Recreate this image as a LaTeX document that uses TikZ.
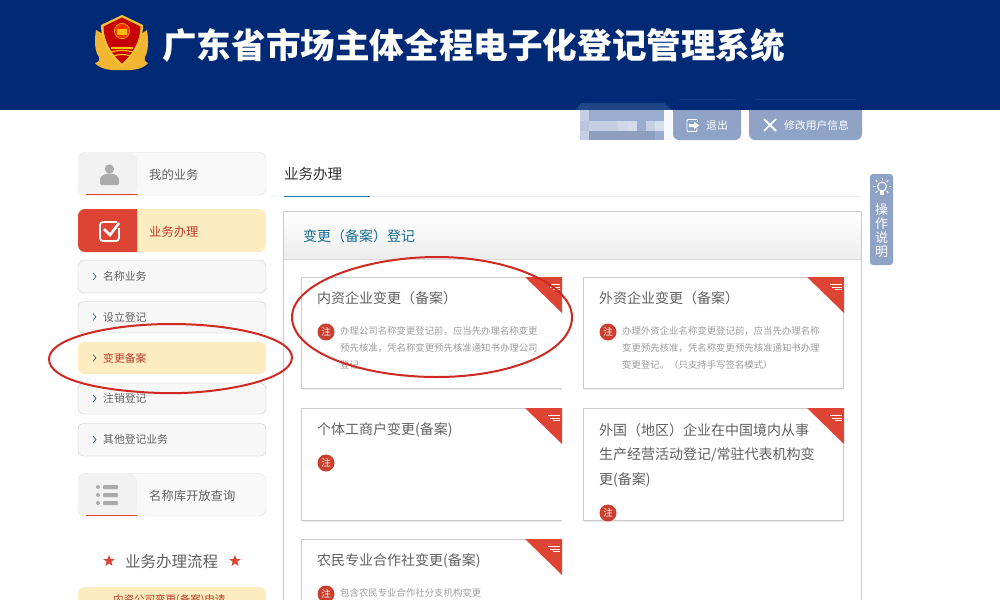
\documentclass[tikz,border=0pt]{standalone}
\usepackage{fontspec}
\setmainfont{Noto Sans CJK SC}
\usepackage{xcolor}
\usetikzlibrary{shapes.geometric}
\definecolor{navy}{HTML}{012A76}
\definecolor{btnblue}{HTML}{8FA3C6}
\definecolor{redmark}{HTML}{DD4433}
\definecolor{cream}{HTML}{FDECC0}
\definecolor{inkred}{HTML}{CE2A22}
\definecolor{teal}{HTML}{1A7FA8}
\definecolor{blura}{HTML}{9AACCF}
\definecolor{blurb}{HTML}{C6D0E4}
\definecolor{wheat}{HTML}{F2B632}
\tikzset{
	menubox/.style={draw=black!12,fill=black!2.5,rounded corners=7pt},
	subbox/.style={draw=black!22,fill=black!3,rounded corners=6pt},
	cardbox/.style={draw=black!20},
	txt/.style={anchor=west,inner sep=0pt,text=black!62},
	cardtitle/.style={txt,font=\fontsize{14}{14}\selectfont},
	cardnote/.style={txt,text=black!38,font=\fontsize{9.4}{9.4}\selectfont},
	subtext/.style={txt,font=\fontsize{10.8}{10.8}\selectfont},
	menutext/.style={txt,font=\fontsize{12.3}{12.3}\selectfont},
	notemark/.style={circle,fill=redmark!92!black,text=white,inner sep=0pt,minimum size=17pt,font=\fontsize{9.5}{9.5}\selectfont},
	btntext/.style={txt,text=white,font=\fontsize{10.8}{10.8}\selectfont},
	ink/.style={inkred,line width=2pt},
}
% red corner of a card, upper right point given
\newcommand{\cardcorner}[2]{
	\fill[redmark] (#1-37,#2) -- (#1,#2) -- (#1,#2+36) -- cycle;
	\draw[white,line width=0.9pt] (#1-14,#2+7.5) -- (#1-2,#2+7.5);
	\draw[white,line width=0.9pt] (#1-12,#2+10) -- (#1-2,#2+10);
	\draw[white,line width=0.9pt] (#1-9,#2+12.5) -- (#1-2,#2+12.5);
}
\begin{document}
\begin{tikzpicture}[x=1pt,y=-1pt]
	\useasboundingbox (0,0) rectangle (1000,599);
	\clip (0,0) rectangle (1000,599);
	\fill[white] (0,0) rectangle (1000,599);
	% header
	\fill[navy] (0,0) rectangle (1000,110);
	% emblem
	\fill[wheat] (122,70) .. controls (108,71) and (99,68) .. (95,63) .. controls (99,62) and (100,60) .. (99,57) .. controls (95,52) and (94,42) .. (96,30) -- (103,34) -- (141,34) -- (147,30) .. controls (149,42) and (148,52) .. (145,57) .. controls (144,60) and (145,62) .. (148,63) .. controls (144,68) and (135,71) .. (122,70) -- cycle;
	\fill[yellow!20!wheat] (122,15) -- (143,25) .. controls (143,42) and (134,58) .. (122,67) .. controls (110,58) and (101,42) .. (101,25) -- cycle;
	\fill[red!78!black] (122,17.5) -- (140.5,26.5) .. controls (140.5,41) and (132,55) .. (122,63.5) .. controls (112,55) and (103.5,41) .. (103.5,26.5) -- cycle;
	\draw[orange!55!yellow,line width=0.9pt] (122,31) circle (7.5pt);
	\fill[orange!40!red] (122,31) circle (7pt);
	\fill[yellow!50!orange] (117,29) rectangle (127,35);
	\fill[yellow!60!orange] (111,47) rectangle (133,49);
	\draw[orange!50!yellow,line width=1.1pt] (111,52) .. controls (117,50) and (127,50) .. (133,52);
	\draw[yellow!60!orange,line width=1.1pt] (114,56) .. controls (118,54) and (126,54) .. (130,56);
	\node[anchor=west,inner sep=0pt,text=white,font=\fontsize{34.6}{34.6}\selectfont\bfseries] (sysname) at (162,45) {广东省市场主体全程电子化登记管理系统};
	% blurred user name
	\fill[navy!78!btnblue] (576,110) -- (581,103) -- (664,103) -- (672,110) -- cycle;
	\fill[white!94!btnblue] (664,110) rectangle (672,140);
	\fill[blura] (580,110) rectangle (664,140);
	\fill[blurb] (580,110) rectangle (589,121);
	\fill[blura!70!white] (580,121) rectangle (589,131);
	\fill[blurb] (580,131) rectangle (589,140);
	\fill[blura!92!black] (589,131) rectangle (655,140);
	\foreach \xa/\xb/\tint in {589/618/100,618/628/85,628/637/75,646/655/100,655/664/70}
		\fill[blurb!\tint!white] (\xa,121) rectangle (\xb,131);
	% buttons
	\fill[btnblue,rounded corners=6pt] (673,100) rectangle (741,140);
	\fill[btnblue,rounded corners=6pt] (749,100) rectangle (862,140);
	\fill[navy] (672,100) rectangle (880,110);
	\draw[white,line width=0.9pt,rounded corners=1pt] (697,119.5) -- (687,119.5) -- (687,131.5) -- (697,131.5) -- (697,128);
	\draw[white,line width=0.9pt] (697,119.5) -- (697,122);
	\fill[white] (689,124) -- (694,124) -- (694,121.5) -- (699,125.5) -- (694,129.5) -- (694,127) -- (689,127) -- cycle;
	\node[btntext] (logout) at (706,125.5) {退出};
	\draw[white,line width=2pt] (764,119) -- (776,131);
	\draw[white,line width=1.6pt] (776,119) -- (764,131);
	\node[btntext] (profile) at (784,125.5) {修改用户信息};
	% side tab
	\fill[btnblue,rounded corners=3pt] (870,174) rectangle (893,265);
	\draw[white,line width=1pt] (882,186.5) circle (4.5pt);
	\fill[white] (880,191) rectangle (884,195);
	\foreach \ang in {0,45,135,180,225,315,90}
		\draw[white,line width=0.8pt] (882,186.5) ++(\ang:6.5pt) -- ++(\ang:2.5pt);
	\node[inner sep=0pt,text=white,font=\fontsize{13}{13}\selectfont] (helpa) at (881.5,209.5) {操};
	\node[inner sep=0pt,text=white,font=\fontsize{13}{13}\selectfont] (helpb) at (881.5,223.5) {作};
	\node[inner sep=0pt,text=white,font=\fontsize{13}{13}\selectfont] (helpc) at (881.5,237.5) {说};
	\node[inner sep=0pt,text=white,font=\fontsize{13}{13}\selectfont] (helpd) at (881.5,251.5) {明};
	% left menu
	\draw[menubox] (78,152.5) rectangle (266,195);
	\fill[black!5,rounded corners=7pt] (78.5,153) -- (137,153) -- (137,194.5) -- (78.5,194.5) -- cycle;
	\draw[redmark,line width=1pt] (86,194.5) -- (137,194.5);
	\fill[black!33] (109.5,169) circle (4.6pt);
	\fill[black!33,rounded corners=2pt] (100,185) -- (100,177) -- (106,173.5) -- (113,173.5) -- (119,177) -- (119,185) -- cycle;
	\node[menutext] (mybiz) at (149,175) {我的业务};
	\fill[cream,rounded corners=7pt] (78,209) rectangle (266,252);
	\fill[redmark] (137,209) [rounded corners=7pt] -- (78,209) -- (78,252) [sharp corners] -- (137,252) -- cycle;
	\draw[white,line width=1.7pt,rounded corners=3pt] (117,222) -- (100,222) -- (100,241) -- (119,241) -- (119,228);
	\draw[white,line width=2.6pt] (104,229) -- (110,235) -- (119,223);
	\node[menutext,text=redmark!85!black] (bizdo) at (149,232) {业务办理};
	\draw[subbox] (78,260.5) rectangle (266,293);
	\draw[subbox] (78,301.5) rectangle (266,333);
	\fill[cream,rounded corners=6pt] (78,342) rectangle (266,374);
	\draw[subbox] (78,383) rectangle (266,414);
	\draw[subbox] (78,423.5) rectangle (266,456);
	\foreach \yy in {276.5,317,358,398.5,439.5}
		\draw[teal!70!black,line width=0.6pt] (93,\yy-3.5) -- (96,\yy) -- (93,\yy+3.5);
	\node[subtext] (subname) at (103,276.5) {名称业务};
	\node[subtext] (subset) at (103,317.5) {设立登记};
	\node[subtext,text=redmark!85!black] (subchange) at (103,358) {变更备案};
	\node[subtext] (subcancel) at (103,398.5) {注销登记};
	\node[subtext] (subother) at (103,439.5) {其他登记业务};
	\draw[menubox] (78,473.5) rectangle (266,516);
	\fill[black!5,rounded corners=7pt] (78.5,474) -- (137,474) -- (137,515.5) -- (78.5,515.5) -- cycle;
	\draw[redmark,line width=1pt] (86,515.5) -- (137,515.5);
	\foreach \yy in {487,495,503} {
		\fill[black!33] (98,\yy) circle (2pt);
		\fill[black!33,rounded corners=1pt] (103,\yy-2) rectangle (118,\yy+2);
	}
	\node[menutext] (query) at (149,496) {名称库开放查询};
	\node[star,star points=5,star point ratio=2.4,fill=redmark,inner sep=0pt,minimum size=12pt] (stara) at (109,561) {};
	\node[star,star points=5,star point ratio=2.4,fill=redmark,inner sep=0pt,minimum size=12pt] (starb) at (235,561) {};
	\node[txt,font=\fontsize{15.5}{15.5}\selectfont] (flow) at (125,562) {业务办理流程};
	\fill[cream,rounded corners=7pt] (78,587) rectangle (266,620);
	\node[txt,text=redmark!85!black,font=\fontsize{10.5}{10.5}\selectfont] (flowa) at (113,600) {内资公司变更(备案)申请};
	% tab title
	\node[txt,text=black!80,font=\fontsize{14.5}{14.5}\selectfont] (tabname) at (284,174) {业务办理};
	\draw[black!8] (284,196.5) -- (862,196.5);
	\draw[teal,line width=1pt] (284,196.5) -- (370,196.5);
	% panel
	\shade[top color=white,bottom color=black!7] (283,212) rectangle (862,259);
	\draw[black!20] (283,600) -- (283,211.5) -- (861.5,211.5) -- (861.5,600);
	\draw[black!15] (283,259.5) -- (861.5,259.5);
	\node[txt,text=teal!85!black,font=\fontsize{14}{14}\selectfont] (paneltitle) at (303,236) {变更（备案）登记};
	% cards
	\draw[cardbox] (562,277.5) -- (301.5,277.5) -- (301.5,388) -- (562,388);
	\draw[cardbox] (583.5,277.5) rectangle (843.5,388);
	\draw[cardbox] (562,408.5) -- (301.5,408.5) -- (301.5,520) -- (562,520);
	\draw[cardbox] (583.5,408.5) rectangle (843.5,520);
	\draw[cardbox] (562,539.5) -- (301.5,539.5) -- (301.5,600);
	\foreach \xa/\xb/\yy in {302/562/389.5,584/844/389.5,302/562/521.5,584/844/521.5}
		\draw[black!8,line width=1.2pt] (\xa,\yy) -- (\xb,\yy);
	\cardcorner{562}{277}
	\cardcorner{844}{277}
	\cardcorner{562}{408}
	\cardcorner{844}{408}
	\cardcorner{562}{539}
	\node[cardtitle] (cardain) at (317,298) {内资企业变更（备案）};
	\node[notemark] (marka) at (326,332) {注};
	\node[cardnote] (notea) at (340,331) {办理公司名称变更登记前，应当先办理名称变更};
	\node[cardnote] (noteb) at (340,348) {预先核准，凭名称变更预先核准通知书办理公司};
	\node[cardnote] (notec) at (340,365) {登记};
	\node[cardtitle] (cardaout) at (599,298) {外资企业变更（备案）};
	\node[notemark] (markb) at (608,332) {注};
	\node[cardnote] (noted) at (622,331) {办理外资企业名称变更登记前，应当先办理名称};
	\node[cardnote] (notee) at (622,348) {变更预先核准，凭名称变更预先核准通知书办理};
	\node[cardnote] (notef) at (622,365) {变更登记。（只支持手写签名模式）};
	\node[cardtitle] (cardc) at (317,430) {个体工商户变更(备案)};
	\node[notemark] (markc) at (326,463) {注};
	\node[cardtitle] (carda) at (599,430) {外国（地区）企业在中国境内从事};
	\node[cardtitle] (cardb) at (599,455) {生产经营活动登记/常驻代表机构变};
	\node[cardtitle] (cardd) at (599,480) {更(备案)};
	\node[notemark] (markd) at (608,513) {注};
	\node[cardtitle] (carde) at (317,561) {农民专业合作社变更(备案)};
	\node[notemark] (marke) at (326,594) {注};
	\node[cardnote] (noteg) at (340,593) {包含农民专业合作社分支机构变更};
	% red hand rings
	\draw[ink] (171,324) .. controls (235,324) and (293,338) .. (292,358) .. controls (291,381) and (215,395) .. (160,393) .. controls (100,391) and (49,380) .. (49,359) .. controls (49,338) and (110,324) .. (171,324) -- cycle;
	\draw[ink] (437,257) .. controls (510,257) and (572,285) .. (572,317) .. controls (572,352) and (510,377) .. (437,377) .. controls (360,377) and (292,352) .. (292,317) .. controls (292,283) and (365,257) .. (437,257) -- cycle;
\end{tikzpicture}
\end{document}
